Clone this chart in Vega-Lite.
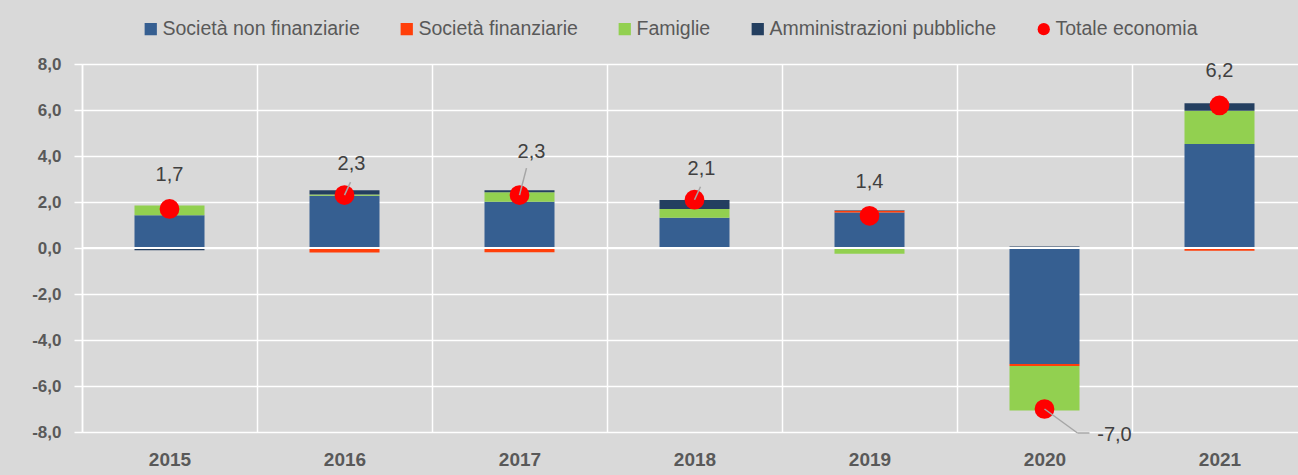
{
  "$schema": "https://vega.github.io/schema/vega-lite/v6.json",
  "width": 1225,
  "height": 368,
  "autosize": {"type": "none"},
  "padding": {"left": 82, "top": 64, "right": 0, "bottom": 43},
  "background": "#D9D9D9",
  "config": {
    "view": {"stroke": null, "fill": "#D9D9D9"},
    "locale": {"number": {"decimal": ",", "thousands": ".", "grouping": [3], "currency": ["€", ""], "minus": "-"}},
    "font": "Liberation Sans"
  },
  "data": {
    "values": [
      {"anno": "2015", "settore": "Società non finanziarie", "valore": 1.42},
      {"anno": "2015", "settore": "Società finanziarie", "valore": 0.0},
      {"anno": "2015", "settore": "Famiglie", "valore": 0.43},
      {"anno": "2015", "settore": "Amministrazioni pubbliche", "valore": -0.1},
      {"anno": "2015", "settore": "Totale economia", "valore": 1.7},
      {"anno": "2016", "settore": "Società non finanziarie", "valore": 2.27},
      {"anno": "2016", "settore": "Società finanziarie", "valore": -0.2},
      {"anno": "2016", "settore": "Famiglie", "valore": 0.06},
      {"anno": "2016", "settore": "Amministrazioni pubbliche", "valore": 0.18},
      {"anno": "2016", "settore": "Totale economia", "valore": 2.3},
      {"anno": "2017", "settore": "Società non finanziarie", "valore": 2.01},
      {"anno": "2017", "settore": "Società finanziarie", "valore": -0.19},
      {"anno": "2017", "settore": "Famiglie", "valore": 0.41},
      {"anno": "2017", "settore": "Amministrazioni pubbliche", "valore": 0.09},
      {"anno": "2017", "settore": "Totale economia", "valore": 2.3},
      {"anno": "2018", "settore": "Società non finanziarie", "valore": 1.32},
      {"anno": "2018", "settore": "Società finanziarie", "valore": -0.01},
      {"anno": "2018", "settore": "Famiglie", "valore": 0.38},
      {"anno": "2018", "settore": "Amministrazioni pubbliche", "valore": 0.39},
      {"anno": "2018", "settore": "Totale economia", "valore": 2.1},
      {"anno": "2019", "settore": "Società non finanziarie", "valore": 1.54},
      {"anno": "2019", "settore": "Società finanziarie", "valore": 0.08},
      {"anno": "2019", "settore": "Famiglie", "valore": -0.25},
      {"anno": "2019", "settore": "Amministrazioni pubbliche", "valore": 0.02},
      {"anno": "2019", "settore": "Totale economia", "valore": 1.4},
      {"anno": "2020", "settore": "Società non finanziarie", "valore": -5.04},
      {"anno": "2020", "settore": "Società finanziarie", "valore": -0.09},
      {"anno": "2020", "settore": "Famiglie", "valore": -1.94},
      {"anno": "2020", "settore": "Amministrazioni pubbliche", "valore": 0.07},
      {"anno": "2020", "settore": "Totale economia", "valore": -7.0},
      {"anno": "2021", "settore": "Società non finanziarie", "valore": 4.52},
      {"anno": "2021", "settore": "Società finanziarie", "valore": -0.12},
      {"anno": "2021", "settore": "Famiglie", "valore": 1.45},
      {"anno": "2021", "settore": "Amministrazioni pubbliche", "valore": 0.32},
      {"anno": "2021", "settore": "Totale economia", "valore": 6.2}
    ]
  },
  "encoding": {
    "x": {
      "field": "anno", "type": "nominal", "title": null,
      "scale": {"paddingInner": 0, "paddingOuter": 0},
      "axis": {
        "labelAngle": 0, "labelFont": "Liberation Sans", "labelFontSize": 19, "labelFontWeight": "bold",
        "labelColor": "#595959", "labelPadding": 18, "ticks": false, "domain": false,
        "grid": true, "tickBand": "extent", "gridColor": "#FFFFFF", "gridWidth": 1.5, "gridOpacity": 1
      }
    }
  },
  "layer": [
    {
      "transform": [{"filter": "datum.settore != 'Totale economia'"}],
      "mark": {"type": "bar", "width": {"band": 0.4}},
      "encoding": {
        "y": {
          "field": "valore", "type": "quantitative", "stack": "zero", "title": null,
          "scale": {"domain": [-8, 8], "nice": false, "zero": false},
          "axis": {
            "values": [-8, -6, -4, -2, 0, 2, 4, 6, 8], "format": ".1f",
            "labelFont": "Liberation Sans", "labelFontSize": 17, "labelFontWeight": "bold", "labelColor": "#595959",
            "labelPadding": 13, "tickColor": "#FFFFFF", "tickSize": 8, "tickWidth": 1.5,
            "domainColor": "#FFFFFF", "domainWidth": 1.5,
            "grid": true, "gridColor": "#FFFFFF", "gridWidth": 1.5, "gridOpacity": 1
          }
        },
        "color": {
          "field": "settore", "type": "nominal", "title": null,
          "scale": {
            "domain": ["Società non finanziarie", "Società finanziarie", "Famiglie", "Amministrazioni pubbliche", "Totale economia"],
            "range": ["#365F91", "#FF3F0A", "#92D050", "#243F60", "#FF0000"]
          },
          "legend": {
            "orient": "none", "legendX": 59, "legendY": -45, "direction": "horizontal",
            "labelFont": "Liberation Sans", "labelFontSize": 19.5, "labelColor": "#595959", "labelLimit": 0,
            "symbolSize": 150, "symbolStrokeWidth": 0, "symbolOpacity": 1, "columnPadding": 37, "labelOffset": 2,
            "encode": {"symbols": {"update": {"shape": {"signal": "datum.value == 'Totale economia' ? 'circle' : 'square'"}}}}
          }
        },
        "order": {"field": "settore", "sort": "descending"}
      }
    },
    {
      "mark": {"type": "rule", "color": "#FFFFFF", "strokeWidth": 1.5},
      "encoding": {"y": {"datum": 0}, "x": null}
    },
    {
      "transform": [{"filter": "datum.settore == 'Totale economia'"}],
      "mark": {"type": "point", "filled": true, "size": 390, "opacity": 1},
      "encoding": {
        "y": {"field": "valore", "type": "quantitative"},
        "color": {"field": "settore", "type": "nominal"}
      }
    },
    {
      "transform": [{"filter": "datum.settore == 'Totale economia' && (datum.anno == '2016' || datum.anno == '2018')"}],
      "mark": {"type": "rule", "color": "#A6A6A6", "strokeWidth": 1.5, "x2Offset": 6, "y2Offset": -13},
      "encoding": {
        "y": {"field": "valore", "type": "quantitative"},
        "x2": {"field": "anno"},
        "y2": {"field": "valore"}
      }
    },
    {
      "transform": [{"filter": "datum.settore == 'Totale economia' && datum.anno == '2017'"}],
      "mark": {"type": "rule", "color": "#A6A6A6", "strokeWidth": 1.5, "x2Offset": 7, "y2Offset": -27},
      "encoding": {
        "y": {"field": "valore", "type": "quantitative"},
        "x2": {"field": "anno"},
        "y2": {"field": "valore"}
      }
    },
    {
      "transform": [{"filter": "datum.settore == 'Totale economia' && datum.anno == '2020'"}],
      "mark": {"type": "rule", "color": "#A6A6A6", "strokeWidth": 1.5, "x2Offset": 33, "y2Offset": 24},
      "encoding": {
        "y": {"field": "valore", "type": "quantitative"},
        "x2": {"field": "anno"},
        "y2": {"field": "valore"}
      }
    },
    {
      "transform": [{"filter": "datum.settore == 'Totale economia' && datum.anno == '2020'"}],
      "mark": {"type": "rule", "color": "#A6A6A6", "strokeWidth": 1.5, "xOffset": 33, "x2Offset": 45, "yOffset": 24, "y2Offset": 24},
      "encoding": {
        "y": {"field": "valore", "type": "quantitative"},
        "x2": {"field": "anno"},
        "y2": {"field": "valore"}
      }
    },
    {
      "transform": [{"filter": "datum.settore == 'Totale economia' && (datum.anno == '2015' || datum.anno == '2019' || datum.anno == '2021')"}],
      "mark": {"type": "text", "dy": -34, "fontSize": 20, "color": "#404040", "font": "Liberation Sans"},
      "encoding": {
        "y": {"field": "valore", "type": "quantitative"},
        "text": {"field": "valore", "type": "quantitative", "format": ".1f"}
      }
    },
    {
      "transform": [{"filter": "datum.settore == 'Totale economia' && (datum.anno == '2016' || datum.anno == '2018')"}],
      "mark": {"type": "text", "dx": 7, "dy": -31, "fontSize": 20, "color": "#404040", "font": "Liberation Sans"},
      "encoding": {
        "y": {"field": "valore", "type": "quantitative"},
        "text": {"field": "valore", "type": "quantitative", "format": ".1f"}
      }
    },
    {
      "transform": [{"filter": "datum.settore == 'Totale economia' && datum.anno == '2017'"}],
      "mark": {"type": "text", "dx": 12, "dy": -43, "fontSize": 20, "color": "#404040", "font": "Liberation Sans"},
      "encoding": {
        "y": {"field": "valore", "type": "quantitative"},
        "text": {"field": "valore", "type": "quantitative", "format": ".1f"}
      }
    },
    {
      "transform": [{"filter": "datum.settore == 'Totale economia' && datum.anno == '2020'"}],
      "mark": {"type": "text", "dx": 70, "dy": 26, "fontSize": 20, "color": "#404040", "font": "Liberation Sans"},
      "encoding": {
        "y": {"field": "valore", "type": "quantitative"},
        "text": {"field": "valore", "type": "quantitative", "format": ".1f"}
      }
    }
  ]
}
